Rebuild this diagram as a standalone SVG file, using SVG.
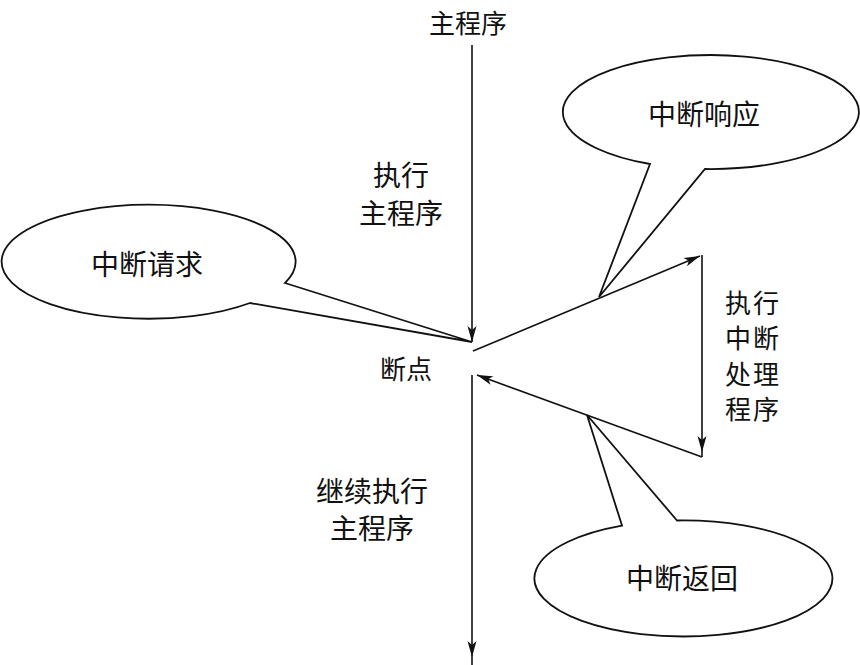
<svg xmlns="http://www.w3.org/2000/svg" width="860" height="665" viewBox="0 0 860 665">
<style>
.t{font-family:"Noto Sans CJK SC","Noto Sans CJK TC",sans-serif;font-size:28px;fill:#111;text-anchor:middle;dominant-baseline:central}
.r{font-size:26px;letter-spacing:2px}
.c{fill:#fff;stroke:#111;stroke-width:1.8;stroke-linejoin:miter}
.ln{fill:none;stroke:#111;stroke-width:1.6}
</style>
<defs>
<marker id="ah" markerWidth="18" markerHeight="10" refX="16" refY="5" orient="auto" markerUnits="userSpaceOnUse">
<path d="M0,0.5 L16,5 L0,9.5 L4,5 Z" fill="#111"/>
</marker>
</defs>
<rect width="860" height="665" fill="#fff"/>
<g id="connectors">
<line class="ln" x1="472" y1="45" x2="472" y2="342" marker-end="url(#ah)"/>
<path class="ln" d="M472,375 L472,657 L472,665" marker-mid="url(#ah)"/>
<line class="ln" x1="473" y1="351" x2="700" y2="256" marker-end="url(#ah)"/>
<path class="ln" d="M702,255 L702,452 L702,457" marker-mid="url(#ah)"/>
<line class="ln" x1="702" y1="457" x2="477" y2="375" marker-end="url(#ah)"/>
</g>
<g id="req">
<path class="c" d="M285,283 L472,342 L250,303 A147 57 0 1 1 285,283 Z"/>
<text class="t" x="147" y="263">中断请求</text>
</g>
<g id="resp">
<path class="c" d="M650,164 L599,297 L705,169 A148 57 0 1 0 650,164 Z"/>
<text class="t" x="704" y="113">中断响应</text>
</g>
<g id="ret">
<path class="c" d="M677,520.5 L587,415 L622,525.6 A149 58 0 1 0 677,520.5 Z"/>
<text class="t" x="682" y="577">中断返回</text>
</g>
<g id="labels">
<text class="t" x="468" y="21" style="font-size:26px">主程序</text>
<text class="t" x="401" y="174">执行</text>
<text class="t" x="401" y="212">主程序</text>
<text class="t" x="406" y="367" style="font-size:26px">断点</text>
<text class="t r" x="753" y="301">执行</text>
<text class="t r" x="753" y="336.5">中断</text>
<text class="t r" x="753" y="372">处理</text>
<text class="t r" x="753" y="407.5">程序</text>
<text class="t" x="372" y="490">继续执行</text>
<text class="t" x="372" y="527">主程序</text>
</g>
</svg>
